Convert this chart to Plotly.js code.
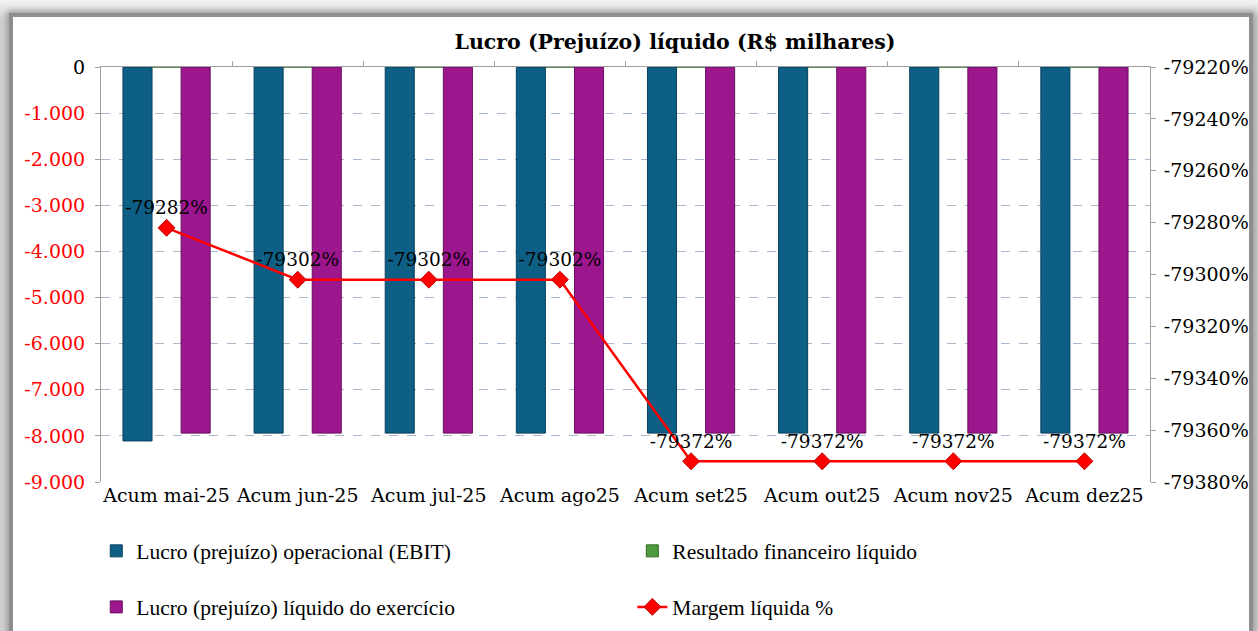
<!DOCTYPE html>
<html><head><meta charset="utf-8">
<script src="https://cdn.plot.ly/plotly-3.0.1.min.js"></script>
<style>
html,body{margin:0;padding:0;width:1258px;height:631px;overflow:hidden;background:linear-gradient(#f4f4f4,#cfcfcf 20px,#cfcfcf);}
#frame{position:absolute;left:9px;top:13px;width:1236px;height:640px;background:#fff;border:4px solid #8e8e8e;box-shadow:0 0 6px 2px #9a9a9a;}
#chart{position:absolute;left:0;top:0;width:1258px;height:631px;}
</style></head>
<body><div id="frame"></div><div id="chart"></div>
<script>
const categories = ["Acum mai-25","Acum jun-25","Acum jul-25","Acum ago25","Acum set25","Acum out25","Acum nov25","Acum dez25"];
const ebit = [-8110,-7940,-7940,-7940,-7940,-7940,-7940,-7940];
const resultadoFinanceiro = [0,0,0,0,0,0,0,0];
const lucroLiquido = [-7940,-7940,-7940,-7940,-7940,-7940,-7940,-7940];
const margemLiquida = [-79282,-79302,-79302,-79302,-79372,-79372,-79372,-79372];
const leftTickVals = [0,-1000,-2000,-3000,-4000,-5000,-6000,-7000,-8000,-9000];
const leftTickText = ["0","-1.000","-2.000","-3.000","-4.000","-5.000","-6.000","-7.000","-8.000","-9.000"];
const rightTickVals = [-79220,-79240,-79260,-79280,-79300,-79320,-79340,-79360,-79380];

const serif = "DejaVu Serif, serif";
const legFont = {family:"Liberation Serif, serif", size:21.5, color:"#000"};
const idx = categories.map((c,i)=>i);

const traces = [
 {type:"bar", name:"Lucro (prejuízo) operacional (EBIT)", x:idx, y:ebit,
  marker:{color:"#0e5f85", line:{color:"#0a3f5c", width:1}}, legend:"legend"},
 {type:"bar", name:"Resultado financeiro líquido", x:idx, y:resultadoFinanceiro,
  marker:{color:"#4e9a3c", line:{color:"#2f6a22", width:1}}, legend:"legend2"},
 {type:"bar", name:"Lucro (prejuízo) líquido do exercício", x:idx, y:lucroLiquido,
  marker:{color:"#9c168e", line:{color:"#6a0d60", width:1}}, legend:"legend3"},
 {type:"scatter", mode:"lines+markers+text", name:"Margem líquida %", x:idx, y:margemLiquida, yaxis:"y2",
  text:margemLiquida.map(v=>v+"%"), textposition:"top center",
  textfont:{family:serif, size:18.5, color:"#000"},
  line:{color:"#ff0000", width:2.5}, marker:{symbol:"diamond", size:13, color:"#ff0000", line:{color:"#c00000", width:1}},
  legend:"legend4", cliponaxis:false},
 {type:"scatter", mode:"markers", x:[0], y:[0], xaxis:"x2", showlegend:false, hoverinfo:"skip", marker:{opacity:0}}
];

function leg(x, y){
  return {orientation:"h", x:x, xanchor:"left", y:y, yanchor:"middle", font:legFont, bgcolor:"rgba(0,0,0,0)"};
}

const layout = {
 width:1258, height:631,
 paper_bgcolor:"rgba(0,0,0,0)", plot_bgcolor:"rgba(0,0,0,0)",
 margin:{l:101, r:108, t:67, b:149, autoexpand:false},
 title:{text:"<b>Lucro (Prejuízo) líquido (R$ milhares)</b>", font:{family:serif, size:20.5, color:"#000"}, xref:"container", x:0.5366, xanchor:"center", y:0.933, yanchor:"middle"},
 barmode:"group", bargap:0.335, bargroupgap:0,
 xaxis:{range:[-0.5,7.5], tickvals:idx, ticktext:categories, showgrid:false, zeroline:false, showline:false,
   ticks:"", tickfont:{family:serif, size:19, color:"#000"}, fixedrange:true},
 xaxis2:{overlaying:"x", side:"top", range:[-0.5,7.5], tickvals:[0.5,1.5,2.5,3.5,4.5,5.5,6.5],
   showticklabels:false, ticks:"outside", ticklen:5, tickcolor:"#a0a0a0", showline:true, linecolor:"#a0a0a0", linewidth:1, showgrid:false, zeroline:false},
 yaxis:{range:[-9000,0], tickvals:leftTickVals,
   ticktext:leftTickText.map((t,i)=> leftTickVals[i]<0 ? '<span style="color:#ff0000">'+t+'</span>' : t),
   tickfont:{family:serif, size:19, color:"#000"}, showgrid:true, gridcolor:"#a9b8cc", griddash:"dash", gridwidth:1,
   zeroline:false, showline:true, linecolor:"#a0a0a0", linewidth:1, ticks:"outside", ticklen:5, tickcolor:"#a0a0a0", ticklabelstandoff:6},
 yaxis2:{overlaying:"y", side:"right", range:[-79380,-79220], tickvals:rightTickVals, ticktext:rightTickVals.map(v=>v+"%"),
   tickfont:{family:serif, size:19, color:"#000"}, showgrid:false, zeroline:false, showline:true, linecolor:"#a0a0a0", linewidth:1,
   ticks:"outside", ticklen:5, tickcolor:"#a0a0a0", ticklabelstandoff:4},
 legend: leg(-0.0045, -0.166),
 legend2: leg(0.5065, -0.166),
 legend3: leg(-0.0045, -0.301),
 legend4: leg(0.5065, -0.301),
 showlegend:true
};
Plotly.newPlot("chart", traces, layout, {staticPlot:true, displayModeBar:false});
</script></body></html>
